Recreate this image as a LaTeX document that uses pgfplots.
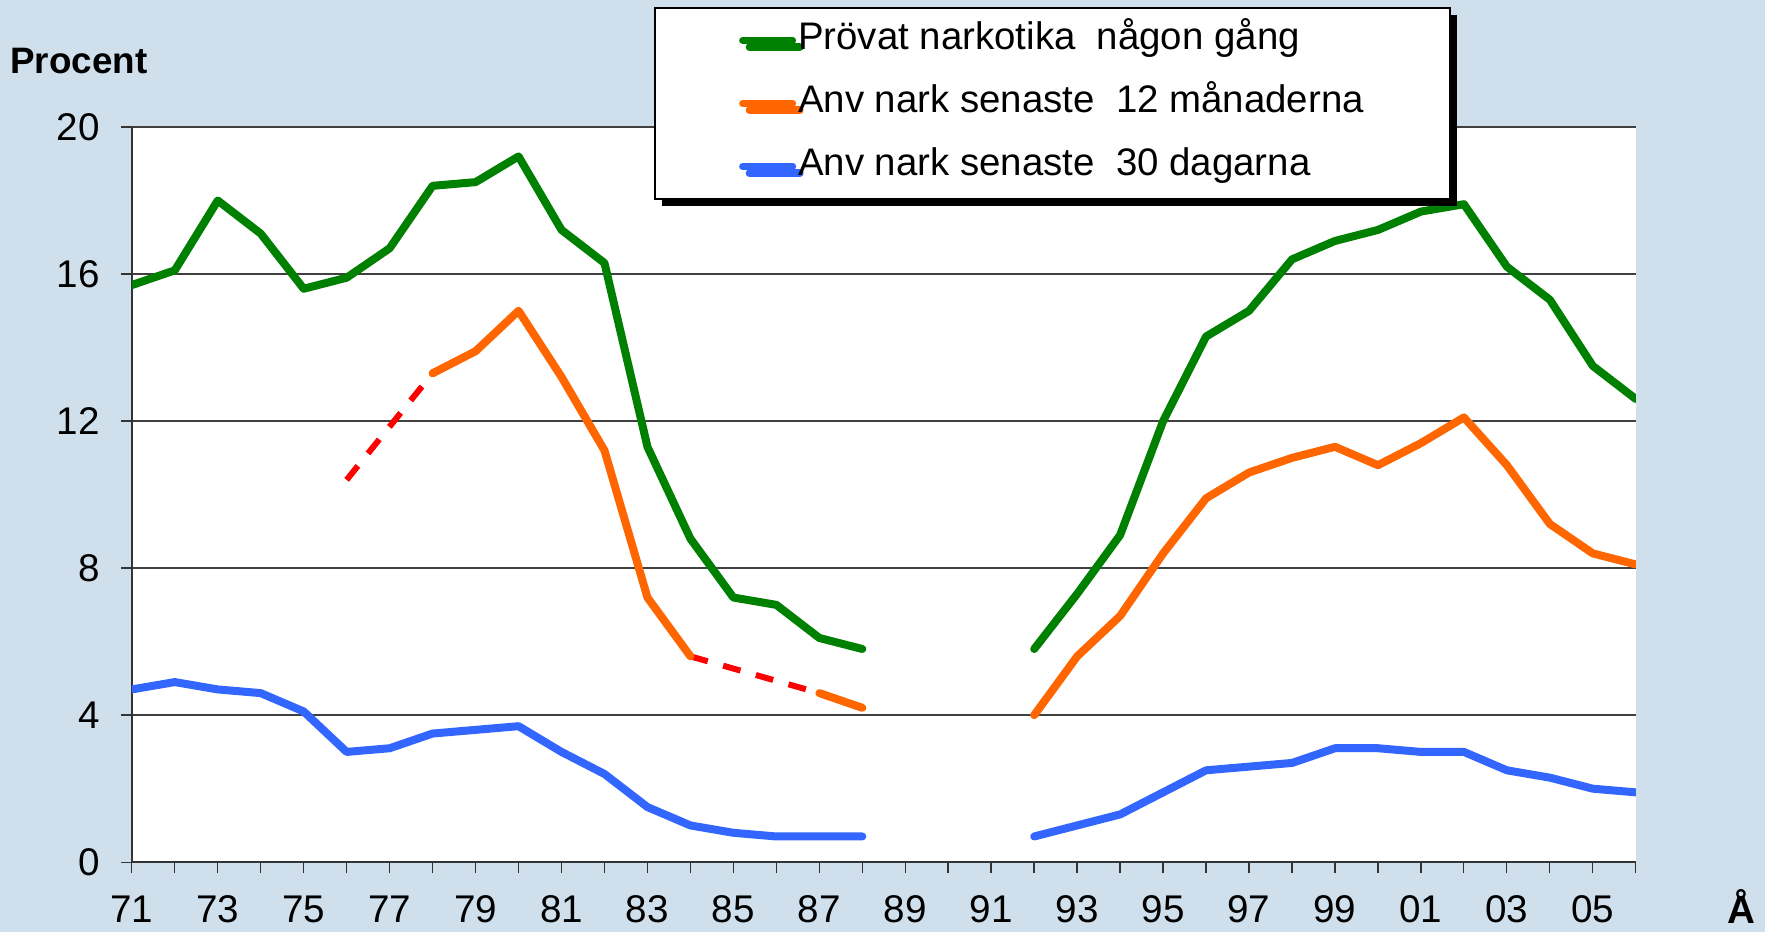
\documentclass[border=0pt]{standalone}
\usepackage{fontspec}
\setmainfont{Liberation Sans}
\usepackage{pgfplots}
\usepackage{pgfplotstable}
\pgfplotsset{compat=1.18}
\usetikzlibrary{shadows}
\definecolor{bg}{RGB}{207,223,235}
\definecolor{cgreen}{RGB}{0,128,0}
\definecolor{corange}{RGB}{255,102,0}
\definecolor{cblue}{RGB}{51,102,255}
\definecolor{cred}{RGB}{255,0,0}

\pgfplotstableread{
year val
1971 15.7
1972 16.1
1973 18.0
1974 17.1
1975 15.6
1976 15.9
1977 16.7
1978 18.4
1979 18.5
1980 19.2
1981 17.2
1982 16.3
1983 11.3
1984 8.8
1985 7.2
1986 7.0
1987 6.1
1988 5.8
1990 nan
1992 5.8
1993 7.3
1994 8.9
1995 12.0
1996 14.3
1997 15.0
1998 16.4
1999 16.9
2000 17.2
2001 17.7
2002 17.9
2003 16.2
2004 15.3
2005 13.5
2006 12.6
}\green

\pgfplotstableread{
year val
1978 13.3
1979 13.9
1980 15.0
1981 13.2
1982 11.2
1983 7.2
1984 5.6
1985 nan
1987 4.6
1988 4.2
1990 nan
1992 4.0
1993 5.6
1994 6.7
1995 8.4
1996 9.9
1997 10.6
1998 11.0
1999 11.3
2000 10.8
2001 11.4
2002 12.1
2003 10.8
2004 9.2
2005 8.4
2006 8.1
}\orange

\pgfplotstableread{
year val
1976 10.4
1978 13.3
1980 nan
1984 5.6
1987 4.6
}\reddash

\pgfplotstableread{
year val
1971 4.7
1972 4.9
1973 4.7
1974 4.6
1975 4.1
1976 3.0
1977 3.1
1978 3.5
1979 3.6
1980 3.7
1981 3.0
1982 2.4
1983 1.5
1984 1.0
1985 0.8
1986 0.7
1987 0.7
1988 0.7
1990 nan
1992 0.7
1993 1.0
1994 1.3
1995 1.9
1996 2.5
1997 2.6
1998 2.7
1999 3.1
2000 3.1
2001 3.0
2002 3.0
2003 2.5
2004 2.3
2005 2.0
2006 1.9
}\blue

\begin{document}
\begin{tikzpicture}
\path[use as bounding box, fill=bg] (-65.9pt,-34.9pt) rectangle (816.6pt,431.1pt);
\begin{axis}[
  at={(0pt,0pt)}, anchor=south west,
  scale only axis, width=752pt, height=367.6pt,
  xmin=1971, xmax=2006, ymin=0, ymax=20,
  axis x line=bottom, axis y line=left,
  axis line style={-, black!80, line width=0.9pt},
  axis background/.style={fill=white},
  unbounded coords=jump,
  tick align=outside,
  major tick length=5.5pt,
  tick style={black!80, line width=0.7pt},
  xtick={1971,...,2006},
  xticklabels={71,,73,,75,,77,,79,,81,,83,,85,,87,,89,,91,,93,,95,,97,,99,,01,,03,,05,},
  ytick={0,4,...,20},
  ymajorgrids,
  grid style={black!75, line width=0.8pt},
  /pgf/number format/assume math mode=true,
  ticklabel style={font=\fontsize{19.3}{23}\selectfont},
  xticklabel style={anchor=center, yshift=-18pt},
  yticklabel style={anchor=east, xshift=-7pt},
  xlabel={\bfseries Å},
  xlabel style={at={(1.0702,0)}, anchor=center, yshift=-22pt, font=\fontsize{19.3}{23}\selectfont},
  ylabel={\bfseries Procent},
  ylabel style={at={(-0.0854,1.090)}, anchor=west, rotate=-90, font=\fontsize{18.4}{22}\selectfont},
  legend style={at={(0.3473,1.1633)}, anchor=north west, draw=black, line width=1pt, fill=white,
    drop shadow={shadow xshift=3.5pt, shadow yshift=-3.5pt, opacity=1, fill=black},
    font=\fontsize{19.2}{23}\selectfont, inner xsep=42pt, inner ysep=6pt, row sep=11pt,
    column sep=0pt,
    cells={anchor=west}, nodes={inner sep=1pt, text height=14pt, text depth=4.5pt}},
  legend image code/.code={\draw[#1, line width=3.5pt] (0pt,0pt) -- (25pt,0pt);},
  every axis plot/.append style={line cap=round, line join=round},
]
\addplot[cred, line width=3pt, dash pattern=on 9pt off 8pt, line cap=butt, forget plot] table[x=year,y=val] {\reddash};
\addplot[cgreen, line width=4pt] table[x=year,y=val] {\green};
\addlegendentry{Prövat narkotika~ någon gång}
\addplot[corange, line width=4pt] table[x=year,y=val] {\orange};
\addlegendentry{Anv nark senaste~ 12 månaderna}
\addplot[cblue, line width=4pt] table[x=year,y=val] {\blue};
\addlegendentry{Anv nark senaste~ 30 dagarna}
\end{axis}
\end{tikzpicture}
\end{document}
